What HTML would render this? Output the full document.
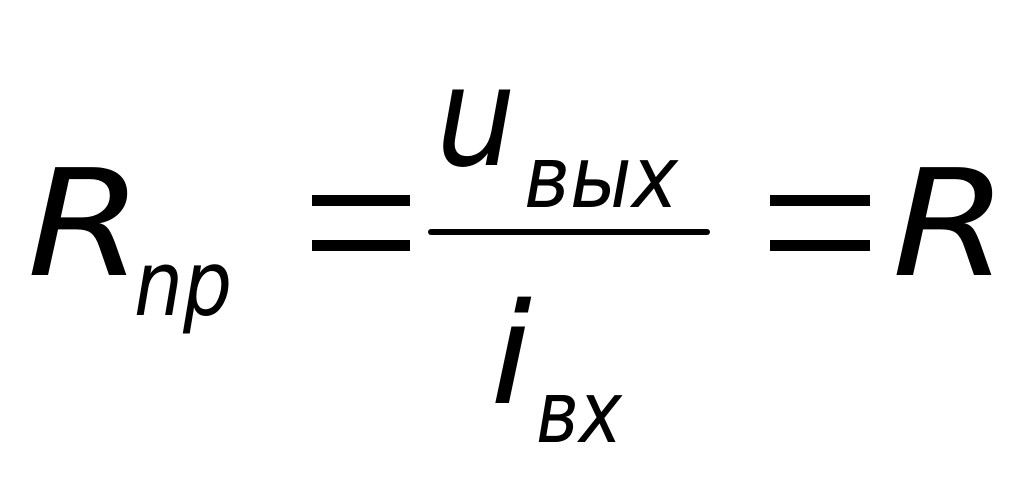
<!DOCTYPE html>
<html><head><meta charset="utf-8"><style>
html,body{margin:0;padding:0;background:#fff;width:1024px;height:478px;overflow:hidden}
svg{display:block}
text{font-family:"DejaVu Sans","Liberation Sans",sans-serif;font-style:italic;fill:#000}
</style></head><body>
<svg width="1024" height="478" viewBox="0 0 1024 478">
<text x="27" y="275" font-size="148" textLength="116" lengthAdjust="spacingAndGlyphs">R</text>
<text x="134" y="315" font-size="90" textLength="98" lengthAdjust="spacingAndGlyphs">np</text>
<rect x="312" y="195" width="98" height="11" fill="#000"/>
<rect x="312" y="240" width="98" height="11" fill="#000"/>
<text x="436" y="165" font-size="138" textLength="80" lengthAdjust="spacingAndGlyphs">u</text>
<text x="524" y="207" font-size="86" textLength="154" lengthAdjust="spacingAndGlyphs">вых</text>
<rect x="428" y="229" width="282" height="6" rx="3" fill="#000"/>
<text x="490" y="403" font-size="140" textLength="42" lengthAdjust="spacingAndGlyphs">i</text>
<text x="536" y="442" font-size="86" textLength="86" lengthAdjust="spacingAndGlyphs">вх</text>
<rect x="770" y="195" width="100" height="11" fill="#000"/>
<rect x="770" y="240" width="100" height="11" fill="#000"/>
<text x="892" y="275" font-size="148" textLength="116" lengthAdjust="spacingAndGlyphs">R</text>
</svg>
</body></html>
